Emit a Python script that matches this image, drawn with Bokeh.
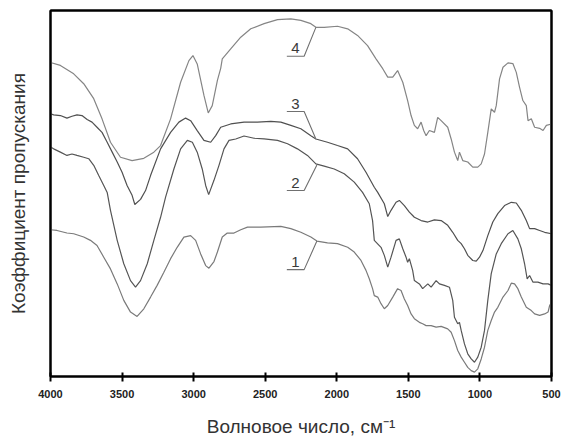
from bokeh.plotting import figure
from bokeh.models import Range1d, FixedTicker, ColumnDataSource, LinearAxis
from bokeh.core.properties import value
from bokeh.embed import file_html
from bokeh.resources import INLINE

# ---- data (wavenumber, cm^-1 ; transmittance, arbitrary units) ----
wn4 = [4000,3931,3838,3768,3698,3640,3581,3511,3430,3348,3278,3231,3161,3091,3033,3005,2975,2928,2898,2870,
       2834,2811,2800,2741,2671,2601,2508,2414,2321,2251,2181,2146,2088,1995,1924,1855,1785,1726,1679,1644,
       1609,1575,1539,1505,1481,1458,1435,1411,1393,1376,1353,1318,1295,1271,1225,1201,1178,1155,1143,1120,
       1085,1050,1015,991,968,945,921,898,886,863,839,804,770,746,723,700,676,664,641,618,583,559,536,500]
t4 = [85.8,85.0,82.7,80.0,75.9,70.4,64.0,59.9,59.0,59.6,61.3,63.1,70.4,80.4,86.3,87.7,85.4,76.8,72.0,74.0,
      80.9,84.2,86.8,89.5,92.7,95.0,96.4,97.5,97.7,97.3,96.4,95.4,95.4,95.7,95.0,93.2,90.4,86.8,84.1,81.8,
      81.8,83.6,80.4,75.4,71.3,68.6,67.7,69.5,67.2,65.8,67.2,66.7,70.8,69.9,68.1,64.9,61.3,59.0,61.3,59.0,
      58.6,57.2,57.2,58.1,60.8,66.7,73.1,72.2,74.0,81.3,84.5,85.7,85.5,83.1,79.0,75.4,74.0,69.9,70.4,68.1,
      67.8,67.2,68.6,69.0]

wn3 = [4000,3978,3931,3885,3850,3815,3780,3744,3710,3675,3640,3604,3569,3534,3500,3465,3430,3411,3371,3336,
       3301,3231,3161,3103,3056,3021,2975,2928,2881,2846,2811,2741,2648,2555,2461,2391,2321,2251,2181,2146,
       2065,1995,1924,1855,1796,1738,1714,1668,1644,1621,1586,1563,1528,1493,1458,1411,1364,1318,1271,1225,
       1190,1155,1131,1108,1085,1050,1026,1003,979,945,910,875,828,781,746,711,676,653,618,583,548,500]
t3 = [71.8,71.5,71.3,70.6,71.1,71.5,71.3,70.2,69.5,68.1,66.7,64.0,61.3,58.6,55.8,52.2,49.5,47.0,48.4,50.8,
      54.9,62.2,66.7,69.5,70.6,69.9,67.2,64.5,64.0,65.8,68.1,69.0,69.5,69.5,69.7,69.5,68.6,67.7,65.8,64.9,
      64.0,63.1,62.2,59.5,55.8,51.7,50.3,47.2,43.7,45.4,47.6,48.1,46.7,44.9,43.5,42.6,42.2,42.8,42.6,41.3,
      39.4,37.2,36.3,34.9,33.1,31.7,31.5,32.6,34.4,38.5,42.2,44.5,46.7,47.6,47.4,45.4,42.6,40.4,40.4,39.9,
      39.4,39.0]

wn2 = [4000,3978,3931,3885,3850,3815,3768,3733,3698,3663,3628,3604,3581,3534,3488,3441,3406,3371,3324,3278,
       3231,3196,3138,3091,3044,3009,2975,2940,2916,2895,2858,2823,2788,2753,2706,2648,2578,2508,2414,2344,
       2275,2205,2146,2088,2018,1948,1878,1820,1773,1750,1738,1691,1668,1644,1621,1586,1563,1539,1516,1505,
       1493,1470,1458,1423,1400,1364,1341,1306,1283,1248,1213,1190,1178,1155,1143,1131,1108,1085,1061,1038,
       1015,991,968,945,921,886,851,804,770,735,711,688,670,653,630,595,559,524,500]
t2 = [62.7,62.2,61.3,60.4,60.8,60.4,59.9,59.5,57.7,54.9,52.2,50.3,45.4,37.2,30.8,26.2,24.4,26.2,30.8,37.2,
      43.5,49.0,56.7,62.2,64.5,64.0,61.3,56.7,52.2,49.7,53.6,57.7,62.2,64.5,64.9,65.7,65.1,64.9,64.5,63.6,
      62.2,60.4,58.1,57.5,56.7,55.4,53.1,50.3,47.2,42.6,37.2,35.3,33.1,29.9,32.6,37.2,37.6,34.9,32.6,31.2,
      32.2,29.0,26.2,25.3,24.0,25.3,24.4,26.2,25.3,24.9,24.4,20.8,16.2,14.4,14.8,12.6,8.9,6.2,4.8,3.9,
      5.3,8.0,12.6,20.8,28.1,33.5,36.3,39.0,39.9,37.6,34.9,30.8,26.7,27.6,25.8,25.8,25.3,25.3,24.9]

wn1 = [4000,3955,3885,3838,3768,3721,3675,3628,3581,3534,3488,3441,3395,3348,3301,3255,3208,3161,3115,3068,
       3021,2986,2951,2916,2893,2858,2834,2800,2765,2718,2671,2624,2531,2391,2321,2251,2181,2139,2065,1995,
       1924,1878,1831,1796,1773,1750,1738,1714,1691,1668,1644,1609,1575,1551,1528,1505,1481,1458,1423,1400,
       1376,1341,1306,1271,1225,1201,1178,1155,1131,1108,1085,1061,1038,1015,991,968,945,921,898,875,
       839,804,781,758,735,711,676,641,618,583,548,524,513,500]
t1 = [40.1,39.9,39.2,39.0,38.1,37.2,35.8,32.6,29.4,25.3,20.8,17.6,16.4,18.5,21.7,24.9,28.5,32.2,35.3,38.1,
      38.5,37.2,33.5,30.3,29.6,31.4,34.0,38.1,39.2,39.2,40.1,40.8,40.8,41.0,40.4,39.4,38.1,37.0,36.5,36.3,
      35.3,34.0,31.7,29.0,26.7,24.0,22.1,21.7,19.9,18.5,19.4,21.7,24.0,23.5,21.2,19.4,17.1,15.8,14.8,14.4,
      13.9,13.9,13.5,13.7,13.0,12.1,9.8,7.1,5.3,3.9,2.5,1.6,1.2,2.1,4.8,8.0,12.6,15.3,17.6,18.9,
      21.7,23.5,25.5,25.3,24.0,21.7,18.9,18.0,17.1,16.7,17.1,17.6,19.4,20.3]

# curve labels with leader lines
label_text = ["4", "3", "2", "1"]
label_touch_wn = [2146, 2146, 2139, 2139]
label_touch_t = [95.4, 64.9, 57.8, 37.0]
label_elbow_wn = [2228, 2228, 2228, 2228]
label_tail_wn = [2349, 2349, 2349, 2349]
label_elbow_t = [87.5, 72.4, 50.8, 29.2]

x_ticks = [4000, 3500, 3000, 2500, 2000, 1500, 1000, 500]

FONT = "Liberation Sans"

p = figure(width=563, height=439, x_range=Range1d(4000, 500), y_range=Range1d(0, 100),
           output_backend="svg", toolbar_location=None,
           min_border_left=50, min_border_right=12, min_border_top=10, min_border_bottom=63)
p.grid.visible = False
p.background_fill_color = "white"
p.border_fill_color = "white"
p.outline_line_color = "black"
p.outline_line_width = 2

series = [(wn4, t4, "#858585"), (wn3, t3, "#505050"), (wn2, t2, "#555555"), (wn1, t1, "#7a7a7a")]
for xs, ys, c in series:
    p.line(xs, ys, line_color=c, line_width=1.2)

# leaders
lx, ly = [], []
for tw, tt, ew, et, lw in zip(label_touch_wn, label_touch_t, label_elbow_wn, label_elbow_t, label_tail_wn):
    lx.append([lw, ew, tw])
    ly.append([et, et, tt])
p.multi_line(lx, ly, line_color="#707070", line_width=1.1)

src = ColumnDataSource(dict(x=[(a + b) / 2 for a, b in zip(label_elbow_wn, label_tail_wn)],
                            y=label_elbow_t, t=label_text))
p.text(x="x", y="y", text="t", source=src, text_font=value(FONT), text_font_size="15px",
       text_color="#3a3a3a", text_align="center", text_baseline="alphabetic", y_offset=-8)

# x axis
xa = p.xaxis[0]
xa.ticker = FixedTicker(ticks=x_ticks)
xa.axis_line_width = 2
xa.axis_line_color = "black"
xa.major_tick_in = 4
xa.major_tick_out = 5
xa.major_tick_line_width = 2
xa.minor_tick_line_color = None
xa.major_label_standoff = 8
xa.major_label_text_font = FONT
xa.major_label_text_font_size = "11px"
xa.major_label_text_font_style = "bold"
xa.major_label_text_color = "#222222"
xa.axis_label = "Волновое число, см⁻¹"
xa.axis_label_text_font = FONT
xa.axis_label_text_font_size = "19px"
xa.axis_label_text_font_style = "normal"
xa.axis_label_text_color = "#333333"
xa.axis_label_standoff = 15

# y axis
ya = p.yaxis[0]
ya.ticker = FixedTicker(ticks=[])
ya.axis_line_color = "black"
ya.axis_line_width = 2
ya.major_tick_in = 0
ya.major_tick_out = 0
ya.minor_tick_line_color = None
ya.major_label_standoff = 0
ya.axis_label = "Коэффициент пропускания"
ya.axis_label_text_font = FONT
ya.axis_label_text_font_size = "19px"
ya.axis_label_text_font_style = "normal"
ya.axis_label_text_color = "#333333"
ya.axis_label_standoff = 22

# frame: top and right edges
for place in ("above", "right"):
    ax = LinearAxis(ticker=FixedTicker(ticks=[]), axis_line_color="black", axis_line_width=2,
                    major_tick_in=0, major_tick_out=0, minor_tick_line_color=None,
                    major_label_standoff=0)
    p.add_layout(ax, place)

open("out.html", "w").write(file_html(p, INLINE))
